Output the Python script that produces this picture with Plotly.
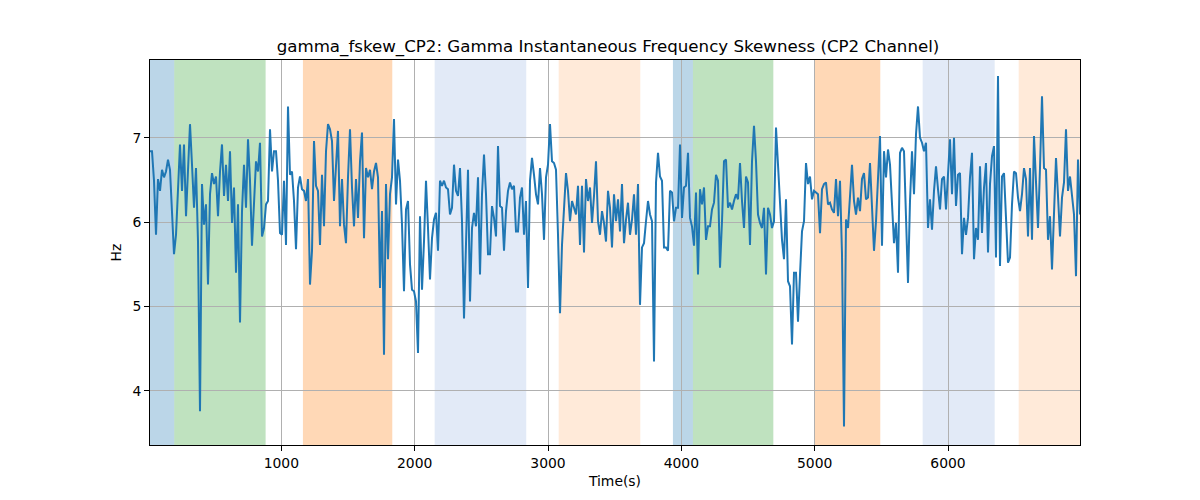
import plotly.graph_objects as go

# Sampling grid (seconds)
t_start = 15
t_step = 15

hz_values = [
    # segment 1
    6.84,6.84,6.49,5.85,6.51,6.37,6.62,6.53,6.60,6.74,6.62,6.01,5.62,5.85,6.37,6.92,6.37,6.92,6.07,6.68,
    7.16,6.68,6.17,6.64,5.77,3.76,6.45,5.97,6.21,5.26,6.33,6.58,6.45,6.54,6.07,6.60,6.92,6.31,6.68,6.25,
    6.84,5.99,6.41,5.40,6.21,4.81,6.13,6.68,6.17,6.98,6.49,5.72,6.29,6.72,6.60,6.94,5.83,5.93,
    # segment 2
    6.21,6.25,7.10,6.60,6.84,6.84,6.49,5.87,5.85,6.49,5.73,7.37,6.56,6.60,6.25,5.68,6.41,6.54,6.39,6.37,
    6.25,6.51,5.26,5.66,6.96,6.43,6.37,5.73,6.56,5.95,6.84,7.16,7.10,6.96,6.25,6.68,7.08,5.95,6.51,5.97,
    5.75,6.53,7.10,6.41,5.95,6.51,6.05,6.72,7.06,5.81,6.64,6.53,6.62,6.39,6.60,6.70,6.53,5.22,
    # segment 3
    6.13,4.43,6.45,5.56,6.33,6.53,7.22,6.21,6.74,6.49,5.97,5.18,6.15,6.25,5.50,5.20,5.18,5.06,4.45,6.07,
    5.20,5.77,6.49,5.93,5.32,5.81,6.03,6.11,5.66,6.49,6.43,6.49,6.41,6.39,6.09,6.17,6.68,6.37,6.31,6.64,
    6.01,4.86,5.93,6.62,5.06,5.93,6.11,5.95,6.53,5.38,6.33,6.80,6.33,5.62,5.62,6.19,6.05,
    # segment 4
    5.83,6.90,6.19,6.17,5.66,6.13,6.37,6.47,6.39,6.43,5.89,5.89,6.29,6.41,5.85,6.25,5.22,6.49,6.76,6.56,
    6.33,6.21,6.64,6.33,5.79,6.53,6.68,7.16,6.72,6.70,6.62,5.85,4.92,5.73,6.23,6.58,6.37,6.01,6.25,6.17,
    6.09,6.43,5.73,6.43,5.64,6.51,6.25,6.41,5.99,6.31,6.72,6.01,5.85,6.13,5.99,5.77,6.37,6.17,
    # segment 5
    5.70,6.33,6.01,6.27,5.89,6.45,5.75,6.03,6.23,5.85,6.03,6.33,5.85,6.45,5.02,5.70,5.75,6.01,6.25,6.09,
    6.01,4.35,6.47,6.82,6.54,6.49,5.70,5.70,5.66,6.37,6.35,6.01,6.17,6.17,6.92,6.05,6.41,6.43,6.82,6.05,
    5.95,5.72,6.35,5.38,6.39,6.21,6.41,5.79,5.95,5.95,6.15,6.23,6.56,6.49,5.46,6.01,6.72,
    # segment 6
    6.74,6.17,6.23,6.15,6.25,6.33,6.27,6.70,6.25,5.93,6.54,6.47,5.73,6.72,7.14,6.72,6.09,5.99,5.93,6.17,
    5.38,6.17,6.09,5.93,6.01,7.12,6.68,6.29,5.79,5.56,6.27,5.30,5.24,4.55,5.40,5.40,4.82,5.38,5.89,6.01,
    6.70,6.45,6.54,6.27,6.37,6.35,6.33,5.87,6.39,6.45,6.47,6.21,6.23,6.15,6.11,6.51,6.07,6.49,
    # segment 7
    5.62,3.58,6.03,5.93,6.37,6.68,6.25,6.09,6.29,6.13,6.51,6.58,6.27,6.29,6.70,6.17,5.66,6.01,6.53,7.02,
    5.72,6.84,6.53,6.86,6.68,6.25,5.75,5.99,5.40,6.82,6.88,6.84,5.93,5.28,6.25,6.84,6.33,7.04,7.37,7.00,
    6.94,6.84,6.94,5.93,6.27,5.91,6.37,6.66,6.39,6.15,6.51,6.54,6.15,6.60,6.98,6.33,7.00,
    # segment 8
    6.19,6.56,6.58,5.62,6.05,5.85,6.05,6.53,6.82,5.56,5.93,5.79,6.66,5.87,6.41,6.70,5.64,6.45,6.78,6.90,
    5.58,7.73,5.48,6.54,6.58,6.01,5.52,5.58,6.21,6.60,6.58,6.29,6.13,6.33,6.64,6.51,5.83,6.64,5.79,7.02,
    6.47,5.93,6.64,7.49,6.64,6.62,5.79,6.07,5.44,6.25,6.76,6.31,5.83,6.29,6.47,7.10,6.37,6.54,6.33,6.09,
    5.36,6.74,6.09,
]

time_s = [t_start + i * t_step for i in range(len(hz_values))]

# Shaded intervals (start, end, color)
band_starts = [15, 197, 1162, 2150, 3080, 3937, 4087, 5002, 5810, 6530]
band_ends = [197, 882, 1832, 2837, 3692, 4087, 4690, 5492, 6350, 6990]
band_colors = [
    "rgba(31,119,180,0.30)", "rgba(44,160,44,0.30)", "rgba(255,127,14,0.30)",
    "rgba(110,150,215,0.20)", "rgba(255,160,80,0.22)", "rgba(31,119,180,0.30)",
    "rgba(44,160,44,0.30)", "rgba(255,127,14,0.30)", "rgba(110,150,215,0.20)",
    "rgba(255,160,80,0.22)",
]

x_ticks = [1000, 2000, 3000, 4000, 5000, 6000]
y_ticks = [4, 5, 6, 7]

fig = go.Figure()
fig.add_trace(go.Scatter(
    x=time_s, y=hz_values, mode="lines",
    line=dict(color="#1f77b4", width=2),
    showlegend=False,
))

for s, e, c in zip(band_starts, band_ends, band_colors):
    fig.add_shape(type="rect", xref="x", yref="paper", x0=s, x1=e, y0=0, y1=1,
                  fillcolor=c, line=dict(width=0), layer="below")

font_family = "DejaVu Sans, sans-serif"
fig.update_layout(
    width=1200, height=500,
    margin=dict(l=142, r=128, t=52, b=63),
    paper_bgcolor="white", plot_bgcolor="white",
    font=dict(family=font_family, size=13.9, color="black"),
    title=dict(text="gamma_fskew_CP2: Gamma Instantaneous Frequency Skewness (CP2 Channel)",
               x=0.5, xanchor="center", y=0.924, yanchor="middle", yref="container",
               font=dict(size=16.67, family=font_family, color="black")),
)
fig.update_xaxes(
    range=[15, 6990], tickvals=x_ticks, ticks="outside", ticklen=5, tickcolor="black",
    showgrid=True, gridcolor="#b0b0b0", gridwidth=1,
    showline=True, linecolor="black", linewidth=1, mirror=True, zeroline=False,
    title=dict(text="Time(s)", font=dict(size=13.9), standoff=6),
    tickfont=dict(size=13.9),
)
fig.update_yaxes(
    range=[3.36, 7.92], tickvals=y_ticks, ticks="outside", ticklen=5, tickcolor="black",
    showgrid=True, gridcolor="#b0b0b0", gridwidth=1,
    showline=True, linecolor="black", linewidth=1, mirror=True, zeroline=False,
    title=dict(text="Hz", font=dict(size=13.9), standoff=7),
    tickfont=dict(size=13.9),
)

fig.write_html("out.html")
